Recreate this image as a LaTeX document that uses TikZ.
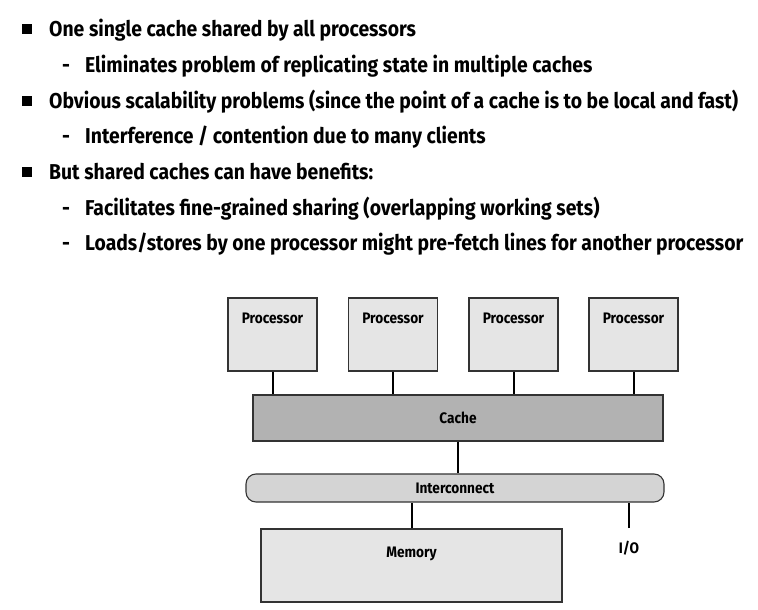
\documentclass[tikz,border=0pt]{standalone}
\usepackage{fontspec}
\setmainfont{Fira Sans}[FakeStretch=0.9]
\begin{document}
\begin{tikzpicture}[x=1pt,y=-1pt,
  txt/.style={anchor=base west, inner sep=0pt, font=\fontsize{21.5}{24}\selectfont\bfseries},
  bul/.style={fill=black, minimum width=10pt, minimum height=10pt, inner sep=0pt},
  small/.style={font=\fontsize{15.2}{17}\selectfont\bfseries},
  box/.style={draw=black!80, line width=1.1pt, inner sep=0pt},
  procbox/.style={box, fill=black!10, minimum width=89pt, minimum height=73pt,
     label={[anchor=north, inner sep=0pt, yshift=-15pt, small]north:#1}},
  link/.style={line width=2pt}
]
\useasboundingbox (0,0) rectangle (758,610);
% bullet list
\node[bul] (b1) at (27,29.5) {};
\node[txt] (t1) at (49,37) {One single cache shared by all processors};
\node[txt] (d2) at (62,73) {-};
\node[txt] (t2) at (85,73) {Eliminates problem of replicating state in multiple caches};
\node[bul] (b3) at (27,101) {};
\node[txt] (t3) at (49,108) {Obvious scalability problems (since the point of a cache is to be local and fast)};
\node[txt] (d4) at (62,143) {-};
\node[txt] (t4) at (85,143) {Interference / contention due to many clients};
\node[bul] (b5) at (27,172) {};
\node[txt] (t5) at (49,179) {But shared caches can have benefits:};
\node[txt] (d6) at (62,215) {-};
\node[txt] (t6) at (85,215) {Facilitates fine-grained sharing (overlapping working sets)};
\node[txt] (d7) at (62,250) {-};
\node[txt] (t7) at (85,250) {Loads/stores by one processor might pre-fetch lines for another processor};
% diagram
\node[procbox=Processor] (p1) at (272.5,334.5) {};
\node[procbox=Processor] (p2) at (393,334.5) {};
\node[procbox=Processor] (p3) at (513.5,334.5) {};
\node[procbox=Processor] (p4) at (633.5,334.5) {};
\node[box, fill=black!30, minimum width=410pt, minimum height=46pt, small] (cache) at (458,418) {Cache};
\node[box, fill=black!17, rounded corners=10pt, minimum width=418pt, minimum height=28pt, small] (ic) at (455,488) {Interconnect};
\node[box, fill=black!10, minimum width=301pt, minimum height=73pt,
  label={[anchor=north, inner sep=0pt, yshift=-18pt, small]north:Memory}] (mem) at (411.5,565.5) {};
\node[small, anchor=north, inner sep=0pt] (io) at (629,541) {I/O};
\foreach \p in {p1,p2,p3,p4}
  \draw[link] (\p.south) -- (\p.south |- cache.north);
\draw[link] (cache.south) -- (cache.south |- ic.north);
\draw[link] (mem.north) -- (mem.north |- ic.south);
\draw[link] ([yshift=13pt]io.north) -- (io.north |- ic.south);
\end{tikzpicture}
\end{document}
